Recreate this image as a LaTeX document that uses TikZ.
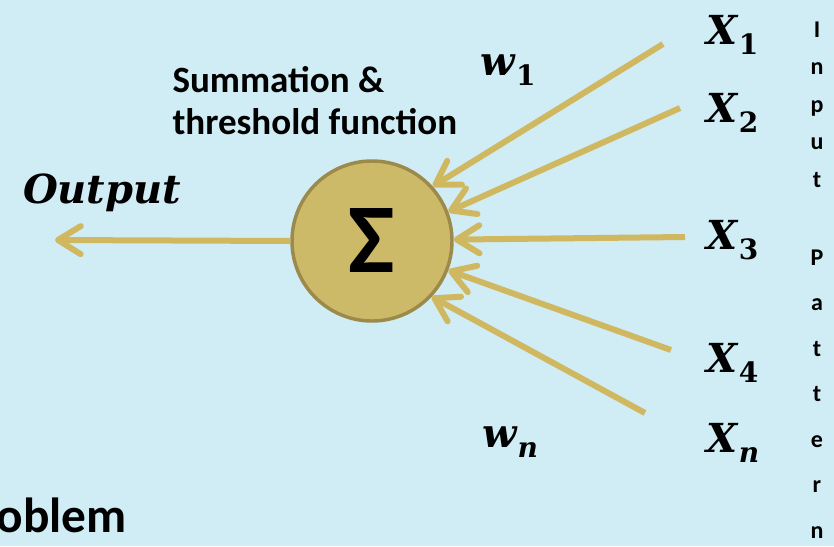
\documentclass[tikz,border=0pt]{standalone}
\usepackage{fontspec}
\setmainfont{Carlito}
\newfontfamily\labelfont{DejaVu Serif}
\usetikzlibrary{arrows.meta}

\definecolor{paneblue}{RGB}{208,236,245}
\definecolor{wiregold}{RGB}{208,184,96}
\definecolor{sumfill}{RGB}{205,186,104}
\definecolor{sumedge}{RGB}{155,138,74}

% letter with a lowered index, e.g. \sublbl{X}{1}
\newcommand{\sublbl}[2]{\textit{#1}\raisebox{-0.24em}{\fontsize{21}{21}\selectfont #2}}

\tikzset{every picture/.style={line width=0.75pt}}
\tikzset{
  wire/.style={draw=wiregold, line width=4.5pt,
    -{Straight Barb[length=17pt,width=21pt,line cap=round,line join=round]}},
  mathlabel/.style={font=\labelfont\bfseries\fontsize{30}{30}\selectfont, inner sep=0pt},
  letter/.style={font=\bfseries\fontsize{18}{18}\selectfont, anchor=base, inner sep=0pt},
}

\begin{document}
\begin{tikzpicture}[x=0.75pt,y=0.75pt,yscale=-1,xscale=1]
\useasboundingbox (0,0) rectangle (834,546);
\fill[paneblue] (0,0) rectangle (834,546);
\clip (0,0) rectangle (834,546);

%Shape: Circle [sum]
\node[circle, fill=sumfill, draw=sumedge, line width=2.6pt, minimum size=120pt,
      font=\bfseries\fontsize{74}{74}\selectfont] (sum) at (372,241) {Σ};

%Free ends of the input lines
\coordinate (x1end) at (663,44);
\coordinate (x2end) at (680,108);
\coordinate (x3end) at (685,237);
\coordinate (x4end) at (671,350);
\coordinate (xnend) at (645,413);
\coordinate (outend) at (55,240);

%Straight Lines
\draw[wire] (x1end) -- (sum.42);
\draw[wire] (x2end) -- (sum.21);
\draw[wire] (x3end) -- (sum.1);
\draw[wire] (x4end) -- (sum.-21);
\draw[wire] (xnend) -- (sum.-43);
\draw[wire] (sum.west) -- (outend);

% Text Node
\node[mathlabel] (outlbl) at (102,193) {\textit{Output}};
% Text Node
\node[mathlabel, anchor=west] (x1) at (706,35) {\sublbl{X}{1}};
\node[mathlabel, anchor=west] (x2) at (706,113) {\sublbl{X}{2}};
\node[mathlabel, anchor=west] (x3) at (706,240) {\sublbl{X}{3}};
\node[mathlabel, anchor=west] (x4) at (706,363) {\sublbl{X}{4}};
\node[mathlabel, anchor=west] (xn) at (706,443) {\sublbl{X}{\itshape n}};
% Text Node
\node[mathlabel] (w1) at (508,70) {\sublbl{w}{1}};
\node[mathlabel] (wn) at (510,442) {\sublbl{w}{\itshape n}};
% Text Node
\node[anchor=west, align=left, inner sep=0pt,
      font=\bfseries\fontsize{27.8}{31.5}\selectfont] (caption) at (172,101) {Summation \&\\threshold function};
% Text Node
\node[anchor=base west, inner sep=0pt,
      font=\bfseries\fontsize{37}{37}\selectfont] (topic) at (-4,532) {oblem};

% Text Node: letters down the right edge
\foreach \ch [count=\i from 0] in {I,n,p,u,t}
  \node[letter] (in\i) at (817,37+37.5*\i) {\ch};
\foreach \ch [count=\i from 0] in {P,a,t,t,e,r,n}
  \node[letter] (pat\i) at (817,265+45.5*\i) {\ch};

\end{tikzpicture}
\end{document}
